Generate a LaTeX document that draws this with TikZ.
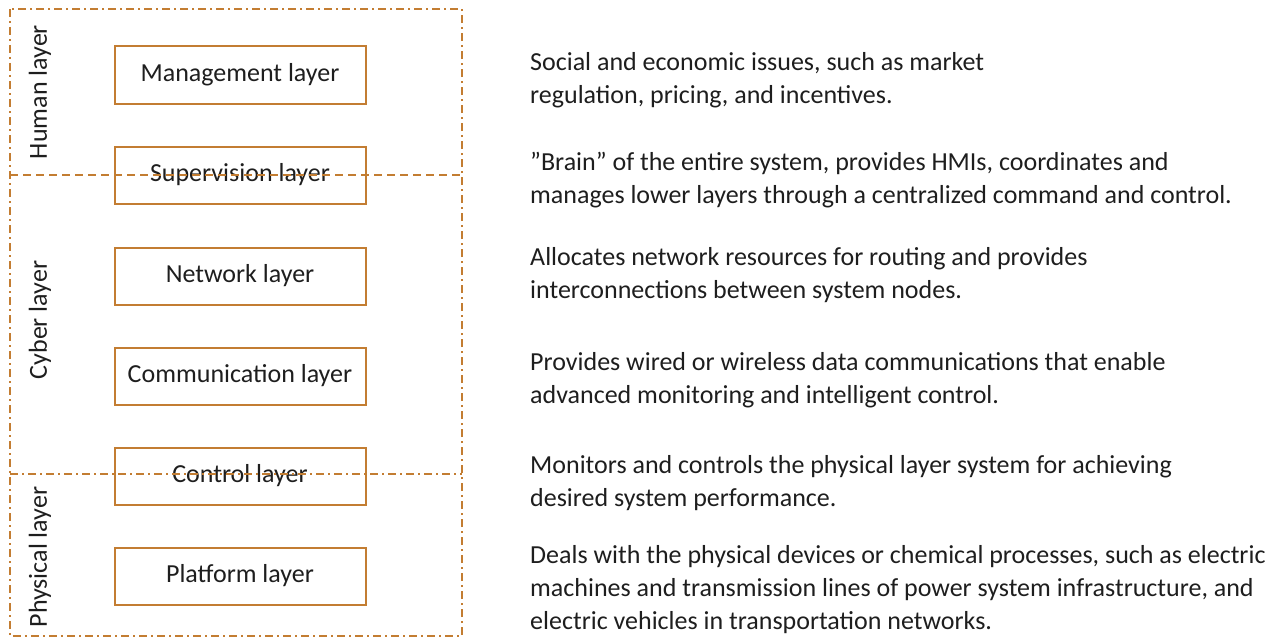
\documentclass[tikz,border=0pt]{standalone}
\usepackage{fontspec}
\setmainfont{Carlito}
\definecolor{brd}{RGB}{195,125,50}
\definecolor{txt}{RGB}{30,30,30}
\tikzset{ly/.style = {rectangle, draw=brd, line width=2pt, minimum width=251pt, minimum height=57pt, inner sep=0pt, text=txt, font=\fontsize{26}{30}\selectfont},
           ds/.style = {anchor=west, align=left, inner sep=0pt, text=txt, font=\fontsize{26}{33}\selectfont},
           gp/.style = {rotate=90, inner sep=0pt, text=txt, font=\fontsize{26}{30}\selectfont},
           dd/.style = {draw=brd, line width=1.4pt, dash pattern=on 8pt off 4pt on 2pt off 4pt},
           dl/.style = {draw=brd, line width=1.4pt, dash pattern=on 8pt off 5pt}}

\begin{document}
\begin{tikzpicture}[x=1pt, y=-1pt]
    \useasboundingbox (0,0) rectangle (1287,642);
    \node[ly] (mgt) at (240,75) {Management layer};
    \node[ly] (sup) at (240,175) {Supervision layer};
    \node[ly] (net) at (240,276) {Network layer};
    \node[ly] (com) at (240,376) {Communication layer};
    \node[ly] (ctl) at (240,476) {Control layer};
    \node[ly] (plt) at (240,576) {Platform layer};
    \node[gp] (hum) at (40,92) {Human layer};
    \node[gp] (cyb) at (40,320) {Cyber layer};
    \node[gp] (phy) at (40,557) {Physical layer};
    \coordinate (tl) at (10,9); \coordinate (br) at (462,636);
    \coordinate (hl) at (10,175); \coordinate (hr) at (462,175);
    \coordinate (pl) at (10,474); \coordinate (pr) at (462,474);
    \draw[dd] (tl) rectangle (br);
    \draw[dl] (hl) -- (hr);
    \draw[dd] (pl) -- (pr);
    \node[ds] (dmgt) at (530,80) {Social and economic issues, such as market\\regulation, pricing, and incentives.};
    \node[ds] (dsup) at (530,180) {”Brain” of the entire system, provides HMIs, coordinates and\\manages lower layers through a centralized command and control.};
    \node[ds] (dnet) at (530,275) {Allocates network resources for routing and provides\\interconnections between system nodes.};
    \node[ds] (dcom) at (530,380) {Provides wired or wireless data communications that enable\\advanced monitoring and intelligent control.};
    \node[ds] (dctl) at (530,483) {Monitors and controls the physical layer system for achieving\\desired system performance.};
    \node[ds] (dplt) at (530,590) {Deals with the physical devices or chemical processes, such as electric\\machines and transmission lines of power system infrastructure, and\\electric vehicles in transportation networks.};
\end{tikzpicture}
\end{document}
